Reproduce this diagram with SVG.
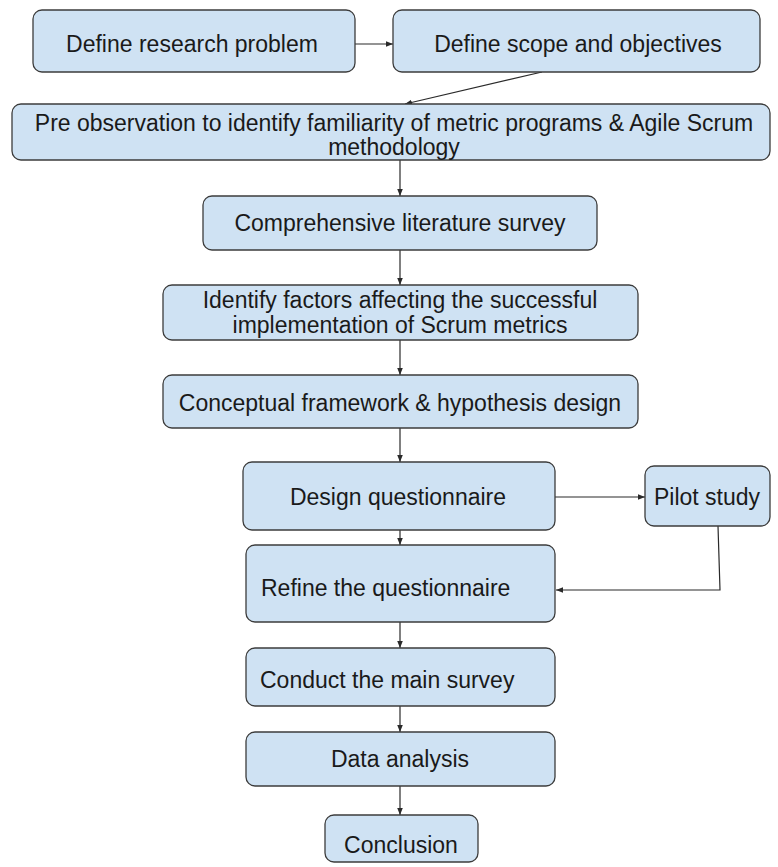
<svg xmlns="http://www.w3.org/2000/svg" width="778" height="867" viewBox="0 0 778 867">
  <style>
    .box { fill: #cfe2f3; stroke: #3c3c3c; stroke-width: 1.3; }
    .lbl { font-family: "Liberation Sans", Arial, sans-serif; font-size: 23px; fill: #1a1a1a; text-anchor: middle; }
    .lbl-l { font-family: "Liberation Sans", Arial, sans-serif; font-size: 23px; fill: #1a1a1a; }
    .edge { fill: none; stroke: #2a2a2a; stroke-width: 1.2; marker-end: url(#arrow); }
  </style>
  <defs>
    <marker id="arrow" viewBox="0 0 10 10" refX="10" refY="5" markerWidth="7" markerHeight="7" orient="auto" markerUnits="userSpaceOnUse">
      <path d="M0,1 L10,5 L0,9 z" fill="#2a2a2a"/>
    </marker>
  </defs>
  <rect width="778" height="867" fill="#ffffff"/>

  <g id="connectors">
    <path class="edge" d="M355,44 L393,44"/>
    <path class="edge" d="M542,72 L405,104"/>
    <path class="edge" d="M400,160 L400,196"/>
    <path class="edge" d="M400,250 L400,285"/>
    <path class="edge" d="M400,340 L400,375"/>
    <path class="edge" d="M400,428 L400,462"/>
    <path class="edge" d="M555,497 L645,497"/>
    <path class="edge" d="M400,530 L400,545"/>
    <path class="edge" d="M718,526 L720,590 L556,590"/>
    <path class="edge" d="M400,622 L400,648"/>
    <path class="edge" d="M400,706 L400,732"/>
    <path class="edge" d="M400,786 L400,815"/>
  </g>

  <g id="define-problem">
    <rect class="box" x="33" y="10" width="322" height="62" rx="9"/>
    <text class="lbl" x="192" y="52">Define research problem</text>
  </g>
  <g id="define-scope">
    <rect class="box" x="393" y="10" width="367" height="62" rx="9"/>
    <text class="lbl" x="578" y="52">Define scope and objectives</text>
  </g>
  <g id="pre-observation">
    <rect class="box" x="12" y="104" width="758" height="56" rx="9"/>
    <text class="lbl" x="394" y="131">Pre observation to identify familiarity of metric programs &amp; Agile Scrum</text>
    <text class="lbl" x="394" y="155">methodology</text>
  </g>
  <g id="literature-survey">
    <rect class="box" x="203" y="196" width="394" height="54" rx="9"/>
    <text class="lbl" x="400" y="231">Comprehensive literature survey</text>
  </g>
  <g id="identify-factors">
    <rect class="box" x="163" y="285" width="475" height="55" rx="9"/>
    <text class="lbl" x="400" y="308">Identify factors affecting the successful</text>
    <text class="lbl" x="400" y="333">implementation of Scrum metrics</text>
  </g>
  <g id="conceptual-framework">
    <rect class="box" x="163" y="375" width="475" height="53" rx="9"/>
    <text class="lbl" x="400" y="411">Conceptual framework &amp; hypothesis design</text>
  </g>
  <g id="design-questionnaire">
    <rect class="box" x="243" y="462" width="312" height="68" rx="9"/>
    <text class="lbl" x="398" y="505">Design questionnaire</text>
  </g>
  <g id="pilot-study">
    <rect class="box" x="645" y="466" width="125" height="60" rx="9"/>
    <text class="lbl" x="707" y="505">Pilot study</text>
  </g>
  <g id="refine-questionnaire">
    <rect class="box" x="246" y="545" width="309" height="77" rx="9"/>
    <text class="lbl-l" x="261" y="596">Refine the questionnaire</text>
  </g>
  <g id="main-survey">
    <rect class="box" x="246" y="648" width="309" height="58" rx="9"/>
    <text class="lbl-l" x="260" y="688">Conduct the main survey</text>
  </g>
  <g id="data-analysis">
    <rect class="box" x="246" y="732" width="309" height="54" rx="9"/>
    <text class="lbl" x="400" y="767">Data analysis</text>
  </g>
  <g id="conclusion">
    <rect class="box" x="325" y="815" width="153" height="47" rx="9"/>
    <text class="lbl" x="401" y="853">Conclusion</text>
  </g>
</svg>
